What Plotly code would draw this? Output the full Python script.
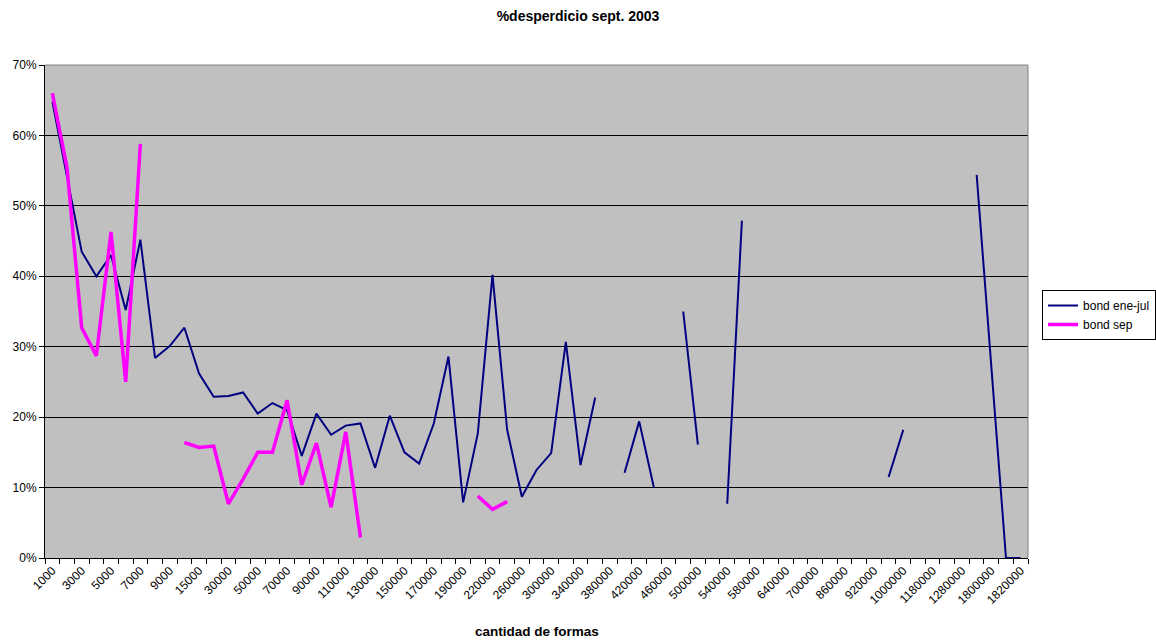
import plotly.graph_objects as go

# Order quantities (categorical x axis, every other one labelled)
cantidades = [
    "1000", "2000", "3000", "4000", "5000", "6000", "7000", "8000", "9000", "10000",
    "15000", "20000", "30000", "40000", "50000", "60000", "70000", "80000", "90000", "100000",
    "110000", "120000", "130000", "140000", "150000", "160000", "170000", "180000", "190000", "200000",
    "220000", "240000", "260000", "280000", "300000", "320000", "340000", "360000", "380000", "400000",
    "420000", "440000", "460000", "480000", "500000", "520000", "540000", "560000", "580000", "600000",
    "640000", "680000", "700000", "800000", "860000", "900000", "920000", "960000", "1000000", "1100000",
    "1180000", "1200000", "1280000", "1600000", "1800000", "1810000", "1820000",
]

# Waste fraction, January-July
bond_ene_jul = [
    0.648, 0.540, 0.435, 0.400, 0.430, 0.352, 0.452, 0.284, 0.301, 0.327,
    0.262, 0.229, 0.230, 0.235, 0.205, 0.220, 0.210, 0.145, 0.205, 0.175,
    0.188, 0.191, 0.128, 0.202, 0.150, 0.134, 0.191, 0.286, 0.079, 0.177,
    0.402, 0.182, 0.087, 0.125, 0.149, 0.307, 0.132, 0.228, None, 0.121,
    0.194, 0.100, None, 0.350, 0.161, None, 0.077, 0.479, None, None,
    None, None, None, None, None, None, None, 0.115, 0.182, None,
    None, None, None, 0.544, 0.270, 0.0, 0.0,
]

# Waste fraction, September
bond_sep = [
    0.660, 0.554, 0.327, 0.287, 0.463, 0.250, 0.588, None, None, 0.164,
    0.157, 0.159, 0.077, 0.112, 0.150, 0.150, 0.224, 0.104, 0.163, 0.072,
    0.179, 0.029, None, None, None, None, None, None, None, 0.088,
    0.069, 0.080, None, None, None, None, None, None, None, None,
    None, None, None, None, None, None, None, None, None, None,
    None, None, None, None, None, None, None, None, None, None,
    None, None, None, None, None, None, None,
]

tick_text = [c if i % 2 == 0 else "" for i, c in enumerate(cantidades)]

FONT = "Liberation Sans, Arial, sans-serif"

fig = go.Figure()
fig.add_trace(go.Scatter(
    x=cantidades, y=bond_ene_jul, mode="lines", name="bond ene-jul",
    line=dict(color="#000080", width=2), connectgaps=False,
))
fig.add_trace(go.Scatter(
    x=cantidades, y=bond_sep, mode="lines", name="bond sep",
    line=dict(color="#FF00FF", width=3.5), connectgaps=False,
))

# Gray frame on the top and right of the plot area
fig.add_shape(type="line", xref="paper", yref="paper", x0=0, x1=1, y0=1, y1=1,
              line=dict(color="#808080", width=1))
fig.add_shape(type="line", xref="paper", yref="paper", x0=1, x1=1, y0=0, y1=1,
              line=dict(color="#808080", width=1))

fig.add_annotation(text="<b>cantidad de formas</b>", xref="paper", yref="paper",
                   x=0.5, y=-0.150, xanchor="center", yanchor="middle",
                   showarrow=False, font=dict(family=FONT, size=13.5, color="black"))

fig.update_layout(
    width=1156, height=640,
    margin=dict(l=45, r=128, t=65, b=82, autoexpand=False),
    paper_bgcolor="white",
    plot_bgcolor="#C0C0C0",
    font=dict(family=FONT, size=12, color="black"),
    title=dict(text="<b>%desperdicio sept. 2003</b>", x=0.5, xanchor="center",
               y=1 - 16 / 640, yanchor="middle", yref="container",
               font=dict(family=FONT, size=14, color="black")),
    showlegend=True,
    legend=dict(x=1.0143, y=0.5436, xanchor="left", yanchor="top",
                bordercolor="black", borderwidth=1, bgcolor="white",
                font=dict(family=FONT, size=12, color="black"),
                tracegroupgap=0),
)

fig.update_xaxes(
    type="category", categoryorder="array", categoryarray=cantidades,
    range=[-0.5, len(cantidades) - 0.5], automargin=False,
    tickmode="array", tickvals=cantidades, ticktext=tick_text,
    tickson="boundaries", ticks="outside", ticklen=5, tickcolor="black",
    tickangle=-45, tickfont=dict(family=FONT, size=12, color="black"),
    showline=True, linecolor="black", linewidth=1, showgrid=False,
    layer="below traces",
)
fig.update_yaxes(
    range=[0, 0.7], dtick=0.1, tickformat=".0%", automargin=False,
    ticks="outside", ticklen=5, tickcolor="black",
    tickfont=dict(family=FONT, size=12, color="black"),
    showline=True, linecolor="black", linewidth=1,
    showgrid=True, gridcolor="black", gridwidth=1, zeroline=False,
    layer="below traces",
)

fig.write_html("out.html")
